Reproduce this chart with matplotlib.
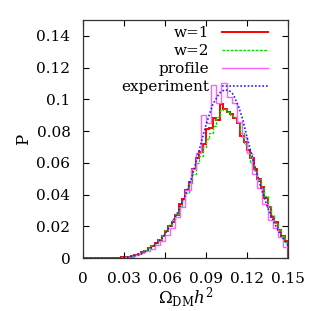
import numpy as np
import matplotlib
matplotlib.use("Agg")
import matplotlib.pyplot as plt

# ---- data ----
w1_bin_width = 0.0025
w1_values = [0, 0, 0, 0, 0, 0, 0.0001, 0.0001, 0.0002, 0.0002, 0.0003, 0.0004,
             0.0006, 0.0008, 0.0012, 0.0018, 0.0026, 0.0036, 0.0048, 0.0062, 0.0078, 0.0095,
             0.0115, 0.014, 0.017, 0.020, 0.023, 0.027, 0.034, 0.037, 0.043, 0.048,
             0.056, 0.063, 0.067, 0.072, 0.081, 0.082, 0.088, 0.087, 0.097, 0.094,
             0.092, 0.091, 0.088, 0.085, 0.077, 0.073, 0.068, 0.063, 0.056, 0.050,
             0.045, 0.038, 0.032, 0.026, 0.023, 0.018, 0.014, 0.011]

w2_bin_width = 0.0025
w2_values = [0, 0, 0, 0, 0, 0, 0.0001, 0.0001, 0.0002, 0.0002, 0.0003, 0.0004,
             0.0006, 0.0009, 0.0013, 0.0019, 0.0027, 0.0037, 0.0050, 0.0064, 0.008, 0.0098,
             0.012, 0.0145, 0.0175, 0.021, 0.024, 0.028, 0.032, 0.036, 0.041, 0.047,
             0.053, 0.060, 0.064, 0.070, 0.075, 0.079, 0.083, 0.089, 0.093, 0.094,
             0.092, 0.090, 0.089, 0.086, 0.079, 0.072, 0.066, 0.060, 0.055, 0.050,
             0.044, 0.039, 0.033, 0.027, 0.022, 0.018, 0.014, 0.010]

profile_bin_width = 0.00375
profile_values = [0, 0, 0, 0, 0, 0, 0, 0,
                  0.0005, 0.001, 0.0018, 0.003, 0.0045, 0.006, 0.008, 0.011,
                  0.0145, 0.019, 0.026, 0.032, 0.043, 0.056, 0.066, 0.090,
                  0.085, 0.109, 0.0975, 0.110, 0.1015, 0.0975, 0.086, 0.076,
                  0.066, 0.053, 0.044, 0.034, 0.024, 0.019, 0.013, 0.007]

exp_x = [0.0, 0.02, 0.03, 0.035, 0.04, 0.045, 0.05, 0.055, 0.06, 0.065, 0.07, 0.075,
         0.08, 0.085, 0.09, 0.095, 0.10, 0.1035, 0.107, 0.11, 0.114, 0.117, 0.12,
         0.1225, 0.125, 0.13, 0.135, 0.14, 0.145, 0.15]
exp_y = [0.0, 0.0, 0.0003, 0.0008, 0.002, 0.0038, 0.0065, 0.010, 0.015, 0.022, 0.030, 0.040,
         0.052, 0.068, 0.084, 0.097, 0.104, 0.106, 0.1055, 0.103, 0.095, 0.087, 0.076,
         0.068, 0.060, 0.045, 0.032, 0.022, 0.014, 0.008]

labels = ["w=1", "w=2", "profile", "experiment"]
x_ticks = [0, 0.03, 0.06, 0.09, 0.12, 0.15]
x_tick_labels = ["0", "0.03", "0.06", "0.09", "0.12", "0.15"]
y_ticks = [0, 0.02, 0.04, 0.06, 0.08, 0.10, 0.12, 0.14]
y_tick_labels = ["0", "0.02", "0.04", "0.06", "0.08", "0.1", "0.12", "0.14"]

# ---- plot ----
plt.rcParams['font.family'] = ['DejaVu Serif']
plt.rcParams['mathtext.fontset'] = 'dejavuserif'
fs = 11

fig = plt.figure(figsize=(3.19, 3.11), dpi=100)
ax = fig.add_axes([0.260, 0.170, 0.643, 0.766])

def edges(vals, w):
    return np.arange(len(vals) + 1) * w

ax.stairs(w1_values, edges(w1_values, w1_bin_width), color='#ff0000', lw=1.4, label=labels[0])
ax.stairs(w2_values, edges(w2_values, w2_bin_width), color='#00e000', lw=1.0,
          linestyle=(0, (2, 1)), label=labels[1])
ax.stairs(profile_values, edges(profile_values, profile_bin_width), color='#ff60ff', lw=1.0,
          label=labels[2])
ax.plot(exp_x, exp_y, color='#2020ff', lw=1.2, linestyle=(0, (1, 1.2)), label=labels[3])

ax.set_xlim(0, 0.15)
ax.set_ylim(0, 0.15)
ax.set_xticks(x_ticks)
ax.set_xticklabels(x_tick_labels, fontsize=fs)
ax.set_yticks(y_ticks)
ax.set_yticklabels(y_tick_labels, fontsize=fs)
ax.tick_params(axis='y', direction='in', right=True, length=4, width=0.8, pad=9)
ax.tick_params(axis='x', direction='in', top=True, length=4, width=0.8, pad=10)
for s in ax.spines.values():
    s.set_linewidth(0.9)
    s.set_color('#333333')

ax.set_xlabel(r'$\Omega_{\rm DM}h^2$', fontsize=12, labelpad=-0.5)
ax.set_ylabel('P', fontsize=12, labelpad=3)

leg = ax.legend(loc='upper right', bbox_to_anchor=(0.93, 1.0), frameon=False,
                markerfirst=False, fontsize=fs, handlelength=3.0, handletextpad=0.8,
                labelspacing=0.26, borderaxespad=0.0)

fig.savefig('out.png', dpi=100)
